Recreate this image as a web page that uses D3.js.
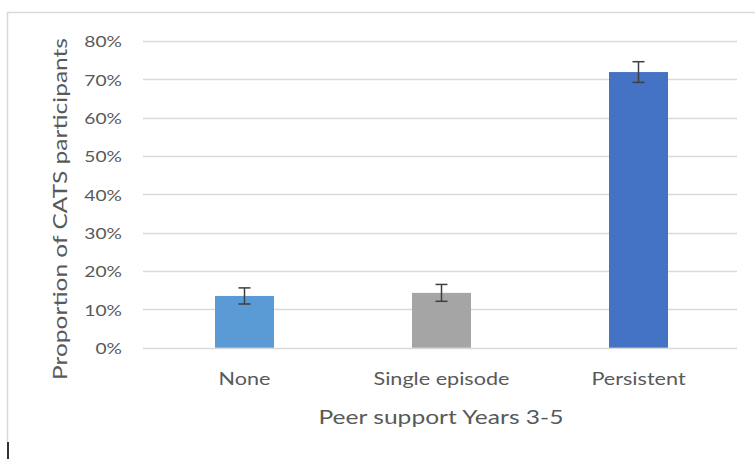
<!DOCTYPE html>
<html><head><meta charset="utf-8">
<script src="https://cdn.jsdelivr.net/npm/d3@7"></script>
<style>
body{margin:0;background:#fff;}
text{font-family:Lato,"Open Sans",sans-serif;fill:#595959;}
</style></head>
<body><svg id="c" width="755" height="459"></svg>
<script>
const categories = ["None", "Single episode", "Persistent"];
const values = [0.135, 0.143, 0.719];
const errors = [0.021, 0.022, 0.027];
const colors = ["#5b9bd5", "#a5a5a5", "#4472c4"];
const yTicks = [0, 0.1, 0.2, 0.3, 0.4, 0.5, 0.6, 0.7, 0.8];
const yTitle = "Proportion of CATS participants";
const xTitle = "Peer support Years 3-5";

const svg = d3.select("#c");
function stretch(sel, k){
  sel.each(function(){
    const w = this.getComputedTextLength();
    d3.select(this).attr("textLength", w*k).attr("lengthAdjust","spacingAndGlyphs");
  });
}
// frame
svg.append("line").attr("x1",7).attr("x2",755).attr("y1",12.5).attr("y2",12.5).attr("stroke","#d9d9d9").attr("stroke-width",1.5);
svg.append("line").attr("x1",7.5).attr("x2",7.5).attr("y1",12).attr("y2",442).attr("stroke","#d9d9d9").attr("stroke-width",1.5);
svg.append("line").attr("x1",8).attr("x2",8).attr("y1",442).attr("y2",459).attr("stroke","#333").attr("stroke-width",2);

const x = d3.scaleBand().domain(categories).range([146, 737]).paddingInner(0.7).paddingOuter(0.35);
const y = d3.scaleLinear().domain([0, 0.8]).range([347.7, 41]);

// grid
svg.append("g").selectAll("line").data(yTicks).join("line")
  .attr("x1",143).attr("x2",737).attr("y1",d=>Math.round(y(d))+0.5).attr("y2",d=>Math.round(y(d))+0.5)
  .attr("stroke","#d9d9d9").attr("stroke-width",1.3);

const yAxis = d3.axisLeft(y).tickValues(yTicks).tickFormat(d3.format(".0%")).tickSize(0).tickPadding(0);
const ya = svg.append("g").attr("transform","translate(122,0)").call(yAxis);
ya.select(".domain").remove();
ya.selectAll("text").style("font-size","16px").attr("fill","#595959").attr("dy","0.36em");
stretch(ya.selectAll("text"), 1.2);

// bars
const bw = 59;
svg.append("g").selectAll("rect").data(categories).join("rect")
  .attr("x",d=>x(d)+x.bandwidth()/2-bw/2).attr("width",bw)
  .attr("y",(d,i)=>y(values[i])).attr("height",(d,i)=>y(0)-y(values[i]))
  .attr("fill",(d,i)=>colors[i]);

// error bars
const eg = svg.append("g").attr("stroke","#3f3f3f").attr("stroke-width",1.5);
categories.forEach((c,i)=>{
  const cx = x(c)+x.bandwidth()/2;
  eg.append("line").attr("x1",cx).attr("x2",cx).attr("y1",y(values[i]+errors[i])).attr("y2",y(values[i]-errors[i]));
  eg.append("line").attr("x1",cx-6).attr("x2",cx+6).attr("y1",y(values[i]+errors[i])).attr("y2",y(values[i]+errors[i]));
  eg.append("line").attr("x1",cx-6).attr("x2",cx+6).attr("y1",y(values[i]-errors[i])).attr("y2",y(values[i]-errors[i]));
});

const xAxis = d3.axisBottom(x).tickSize(0).tickPadding(0);
const xa = svg.append("g").attr("transform","translate(0,385)").call(xAxis);
xa.select(".domain").remove();
xa.selectAll("text").style("font-size","18px").attr("fill","#595959").attr("dy","0");
stretch(xa.selectAll("text"), 1.2);

const xt = svg.append("text").attr("x",441).attr("y",424).attr("text-anchor","middle").style("font-size","20px").text(xTitle);
xt.attr("textLength",245).attr("lengthAdjust","spacingAndGlyphs");
const yt = svg.append("text").attr("transform","translate(67,209) rotate(-90)").attr("text-anchor","middle").style("font-size","20px").text(yTitle);
yt.attr("textLength",342).attr("lengthAdjust","spacingAndGlyphs");
</script></body></html>
